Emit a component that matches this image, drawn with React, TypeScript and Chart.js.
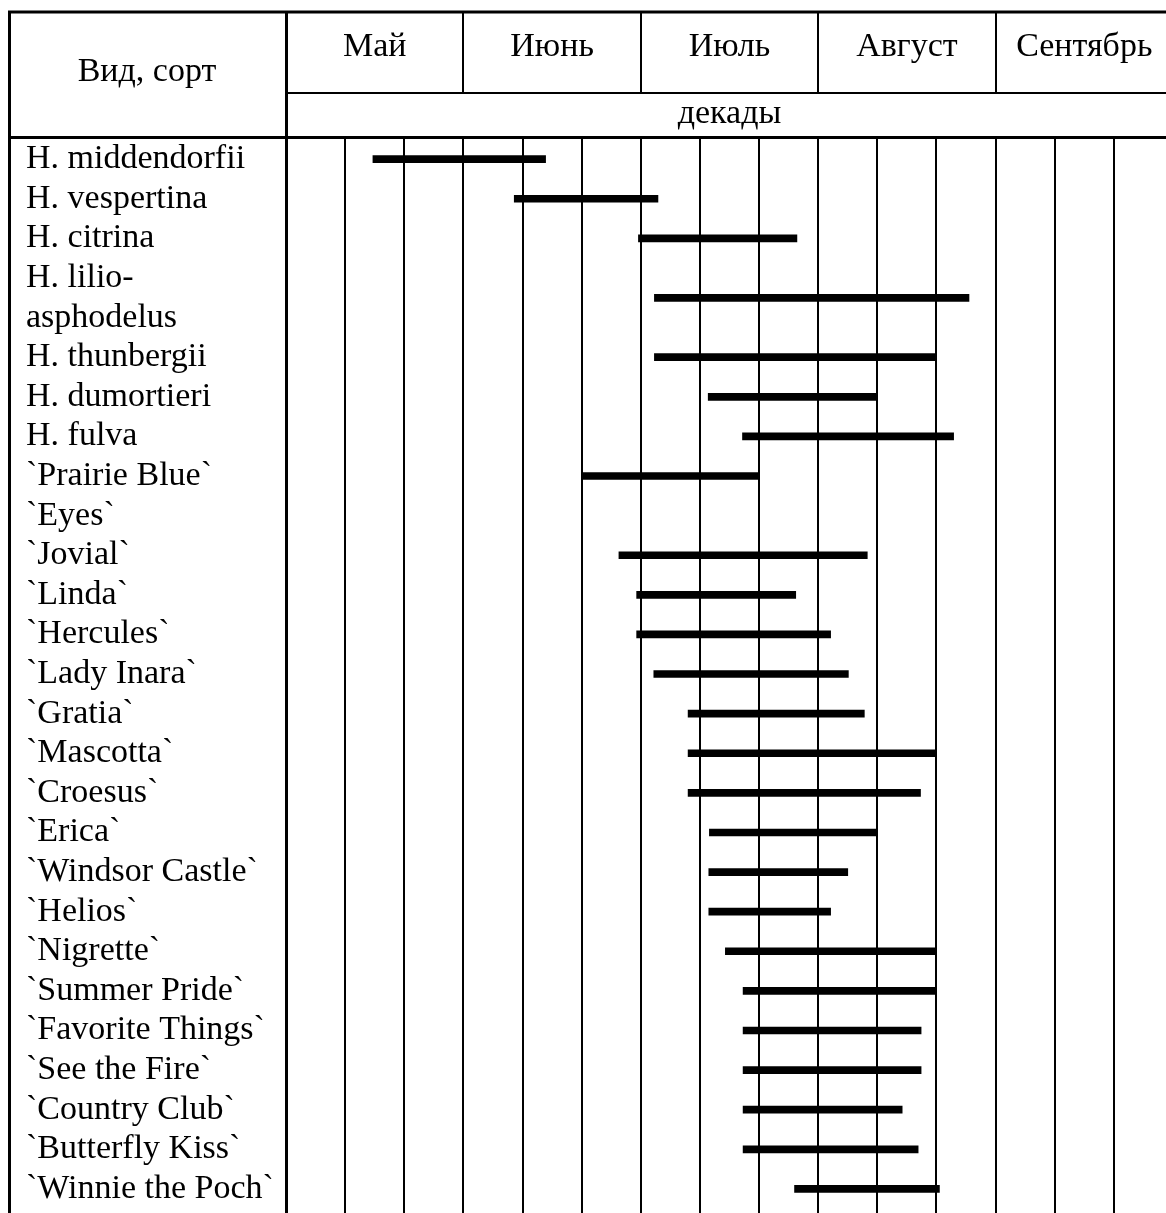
import React, { useEffect, useRef } from "react";
import { Chart, registerables } from "chart.js";

Chart.register(...registerables);

// ---- data ----
const monthLabels = ["Май", "Июнь", "Июль", "Август", "Сентябрь"];
const decadeTitle = "декады";
const cornerTitle = "Вид, сорт";

const speciesLabels: (string | string[])[] = [
  "H. middendorfii",
  "H. vespertina",
  "H. citrina",
  ["H. lilio-", "asphodelus"],
  "H. thunbergii",
  "H. dumortieri",
  "H. fulva",
  "`Prairie Blue`",
  "`Eyes`",
  "`Jovial`",
  "`Linda`",
  "`Hercules`",
  "`Lady Inara`",
  "`Gratia`",
  "`Mascotta`",
  "`Croesus`",
  "`Erica`",
  "`Windsor Castle`",
  "`Helios`",
  "`Nigrette`",
  "`Summer Pride`",
  "`Favorite Things`",
  "`See the Fire`",
  "`Country Club`",
  "`Butterfly Kiss`",
  "`Winnie the Poch`",
];

// flowering start / end, in decades counted from the 1st decade of May
const bloomStart: (number | null)[] = [
  1.47, 3.86, 5.96, 6.23, 6.23, 7.14, 7.72, 5.0, null, 5.63, 5.93, 5.93, 6.22,
  6.8, 6.8, 6.8, 7.16, 7.15, 7.15, 7.43, 7.73, 7.73, 7.73, 7.73, 7.73, 8.6,
];
const bloomEnd: (number | null)[] = [
  4.39, 6.29, 8.64, 11.55, 11.0, 10.0, 11.29, 8.0, null, 9.83, 8.62, 9.21, 9.51,
  9.78, 11.0, 10.73, 10.0, 9.5, 9.21, 11.0, 11.0, 10.74, 10.74, 10.42, 10.69,
  11.05,
];

const decadeCount = 15;

// ---- derived ----
const nameLines: string[] = [];
const speciesRow: number[] = [];
speciesLabels.forEach((label) => {
  const parts = Array.isArray(label) ? label : [label];
  const first = nameLines.length;
  parts.forEach((p) => nameLines.push(p));
  speciesRow.push(first + (parts.length - 1) / 2);
});

const barData = speciesLabels
  .map((_, i) =>
    bloomStart[i] == null || bloomEnd[i] == null
      ? null
      : { x: [bloomStart[i] as number, bloomEnd[i] as number], y: speciesRow[i] }
  )
  .filter((d) => d !== null);

const FONT_FAMILY = "'Liberation Serif', 'Times New Roman', serif";
const FONT_SIZE = 34;

const tableFrame = {
  id: "tableFrame",
  afterDraw(chart: any) {
    const { ctx, chartArea, width, height } = chart;
    const months = chart.scales.months;
    const frameLeft = 8;
    const topY = months.top;
    const headerBottom = Math.round(chartArea.top - 1.5) + 1.5;
    ctx.save();
    ctx.strokeStyle = "#000";
    ctx.lineWidth = 3;
    ctx.beginPath();
    ctx.moveTo(frameLeft, topY);
    ctx.lineTo(width, topY);
    ctx.moveTo(frameLeft + 1.5, topY - 1.5);
    ctx.lineTo(frameLeft + 1.5, height);
    ctx.moveTo(chartArea.left + 0.5, topY - 1.5);
    ctx.lineTo(chartArea.left + 0.5, height);
    ctx.moveTo(frameLeft, headerBottom);
    ctx.lineTo(chartArea.left, headerBottom);
    ctx.stroke();
    ctx.font = `${FONT_SIZE}px ${FONT_FAMILY}`;
    ctx.fillStyle = "#000";
    ctx.textAlign = "center";
    ctx.textBaseline = "alphabetic";
    ctx.fillText(cornerTitle, (frameLeft + chartArea.left) / 2, 81);
    ctx.restore();
  },
};

export default function App() {
  const canvasRef = useRef<HTMLCanvasElement | null>(null);

  useEffect(() => {
    const canvas = canvasRef.current;
    if (!canvas) return;
    const font = { family: FONT_FAMILY, size: FONT_SIZE, lineHeight: 1 };
    const chart = new Chart(canvas, {
      type: "bar",
      data: {
        datasets: [
          {
            data: barData as any,
            xAxisID: "x",
            yAxisID: "y",
            backgroundColor: "#000",
            borderWidth: 0,
            barThickness: 7,
          },
        ],
      },
      options: {
        indexAxis: "y",
        animation: false,
        responsive: false,
        maintainAspectRatio: false,
        layout: { padding: { top: 12, left: 26, right: 27, bottom: 0 } },
        plugins: {
          legend: { display: false },
          tooltip: { enabled: false },
        },
        scales: {
          x: {
            type: "linear",
            axis: "x",
            position: "top",
            weight: 0,
            min: 0,
            max: decadeCount,
            offset: false,
            ticks: { display: false, stepSize: 1 },
            grid: {
              color: "#000",
              lineWidth: 2,
              drawTicks: false,
              drawOnChartArea: true,
            },
            border: { display: true, color: "#000", width: 3 },
            title: {
              display: true,
              text: decadeTitle,
              color: "#000",
              font,
              padding: { top: 4, bottom: 0 },
            },
            afterFit: (s: any) => {
              s.height = 44;
            },
          },
          months: {
            type: "category",
            axis: "x",
            position: "top",
            weight: 1,
            labels: monthLabels,
            offset: true,
            ticks: {
              color: "#000",
              font,
              padding: -51,
              autoSkip: false,
              maxRotation: 0,
            },
            grid: {
              offset: true,
              color: "#000",
              lineWidth: 2,
              drawOnChartArea: false,
              drawTicks: true,
              tickLength: 80,
            },
            border: { display: true, color: "#000", width: 2 },
            afterFit: (s: any) => {
              s.height = 81;
            },
          },
          y: {
            type: "linear",
            axis: "y",
            position: "left",
            reverse: true,
            offset: false,
            min: -0.56,
            max: 27.29,
            afterBuildTicks: (s: any) => {
              s.ticks = nameLines.map((_, i) => ({ value: i }));
            },
            ticks: {
              autoSkip: false,
              color: "#000",
              font,
              crossAlign: "far",
              padding: 0,
              callback: (v: any) => nameLines[v as number] ?? "",
            },
            grid: { display: false },
            border: { display: false },
            afterFit: (s: any) => {
              s.width = 260;
              s.paddingTop = 0;
              s.paddingBottom = 0;
            },
          },
        },
      },
      plugins: [tableFrame],
    });
    return () => chart.destroy();
  }, []);

  return (
    <div
      style={{
        position: "fixed",
        left: 0,
        top: 0,
        width: "100vw",
        height: "100vh",
        overflow: "hidden",
        background: "#fff",
      }}
    >
      <canvas
        ref={canvasRef}
        width={1200}
        height={1240}
        style={{ display: "block", width: 1200, height: 1240 }}
      />
    </div>
  );
}
